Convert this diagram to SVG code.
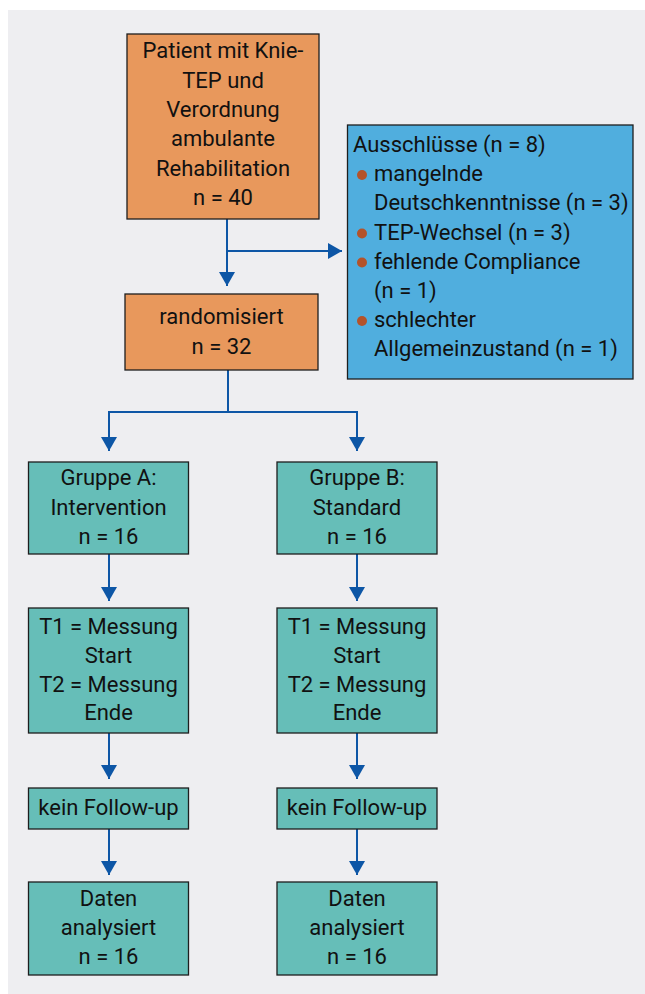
<svg xmlns="http://www.w3.org/2000/svg" width="645" height="994" viewBox="0 0 645 994">
<defs>
<style>
.bg{fill:#EEEEF1}
.box{stroke:#1E1E1E;stroke-width:1.3}
.or{fill:#E8985C}
.bl{fill:#50AEDE}
.te{fill:#66BEB8}
text{font-family:Roboto,"Liberation Sans",sans-serif;font-size:22px;fill:#111}
.c{text-anchor:middle}
.con{fill:none;stroke:#0D56A6;stroke-width:2}
.dot{fill:#B4532A}
</style>
<marker id="ah" markerUnits="userSpaceOnUse" markerWidth="15" markerHeight="16" refX="14" refY="8" orient="auto">
<path d="M0,0 L14,8 L0,16 z" fill="#0D56A6"/>
</marker>
</defs>
<rect class="bg" x="8" y="10" width="637" height="984"/>
<g id="connectors">
<path class="con" d="M227,219 V286" marker-end="url(#ah)"/>
<path class="con" d="M227,251 H342" marker-end="url(#ah)"/>
<path class="con" d="M228,370 V412"/>
<path class="con" d="M228,412 H109 V451" marker-end="url(#ah)"/>
<path class="con" d="M228,412 H357 V451" marker-end="url(#ah)"/>
<path class="con" d="M109,554 V601" marker-end="url(#ah)"/>
<path class="con" d="M357,554 V601" marker-end="url(#ah)"/>
<path class="con" d="M109,733 V779" marker-end="url(#ah)"/>
<path class="con" d="M357,733 V779" marker-end="url(#ah)"/>
<path class="con" d="M109,829 V875" marker-end="url(#ah)"/>
<path class="con" d="M357,829 V875" marker-end="url(#ah)"/>
</g>
<g id="patient">
<rect class="box or" x="127" y="34" width="192" height="185"/>
<text class="c" x="223" y="58.3">Patient mit Knie-</text>
<text class="c" x="223" y="87.5">TEP und</text>
<text class="c" x="223" y="116.7">Verordnung</text>
<text class="c" x="223" y="146">ambulante</text>
<text class="c" x="223" y="175.5">Rehabilitation</text>
<text class="c" x="223" y="204.5">n = 40</text>
</g>
<g id="ausschluesse">
<rect class="box bl" x="347.5" y="125" width="285.5" height="254"/>
<text x="353" y="151.7">Ausschlüsse (n = 8)</text>
<circle class="dot" cx="362" cy="175" r="5"/>
<text x="374" y="181">mangelnde</text>
<text x="374" y="210">Deutschkenntnisse (n = 3)</text>
<circle class="dot" cx="362" cy="233.5" r="5"/>
<text x="374" y="239.5">TEP-Wechsel (n = 3)</text>
<circle class="dot" cx="362" cy="262.5" r="5"/>
<text x="374" y="268.5">fehlende Compliance</text>
<text x="374" y="297.7">(n = 1)</text>
<circle class="dot" cx="362" cy="321" r="5"/>
<text x="374" y="327">schlechter</text>
<text x="374" y="356">Allgemeinzustand (n = 1)</text>
</g>
<g id="randomisiert">
<rect class="box or" x="125" y="294" width="193" height="76"/>
<text class="c" x="221.5" y="324">randomisiert</text>
<text class="c" x="221.5" y="354">n = 32</text>
</g>
<g id="gruppeA">
<rect class="box te" x="28.5" y="462" width="160" height="92"/>
<text class="c" x="108.5" y="485">Gruppe A:</text>
<text class="c" x="108.5" y="514.5">Intervention</text>
<text class="c" x="108.5" y="543.5">n = 16</text>
</g>
<g id="gruppeB">
<rect class="box te" x="277" y="462" width="160" height="92"/>
<text class="c" x="357" y="485">Gruppe B:</text>
<text class="c" x="357" y="514.5">Standard</text>
<text class="c" x="357" y="543.5">n = 16</text>
</g>
<g id="messungA">
<rect class="box te" x="28.5" y="608" width="160" height="125"/>
<text class="c" x="108.5" y="633.5">T1 = Messung</text>
<text class="c" x="108.5" y="662.5">Start</text>
<text class="c" x="108.5" y="691.5">T2 = Messung</text>
<text class="c" x="108.5" y="720">Ende</text>
</g>
<g id="messungB">
<rect class="box te" x="277" y="608" width="160" height="125"/>
<text class="c" x="357" y="633.5">T1 = Messung</text>
<text class="c" x="357" y="662.5">Start</text>
<text class="c" x="357" y="691.5">T2 = Messung</text>
<text class="c" x="357" y="720">Ende</text>
</g>
<g id="followupA">
<rect class="box te" x="28.5" y="788" width="160" height="41"/>
<text class="c" x="108.5" y="815">kein Follow-up</text>
</g>
<g id="followupB">
<rect class="box te" x="277" y="788" width="160" height="41"/>
<text class="c" x="357" y="815">kein Follow-up</text>
</g>
<g id="datenA">
<rect class="box te" x="28.5" y="882" width="160" height="93"/>
<text class="c" x="108.5" y="906">Daten</text>
<text class="c" x="108.5" y="934.5">analysiert</text>
<text class="c" x="108.5" y="963.5">n = 16</text>
</g>
<g id="datenB">
<rect class="box te" x="277" y="882" width="160" height="93"/>
<text class="c" x="357" y="906">Daten</text>
<text class="c" x="357" y="934.5">analysiert</text>
<text class="c" x="357" y="963.5">n = 16</text>
</g>
</svg>
